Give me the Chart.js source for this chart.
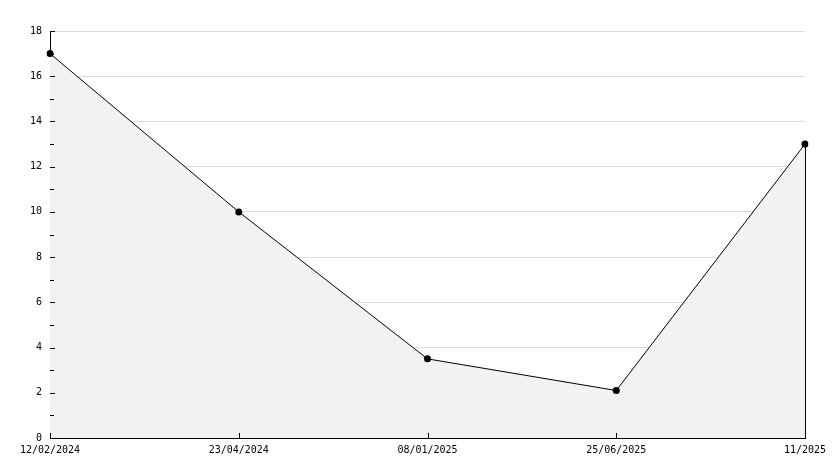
<!DOCTYPE html>
<html>
<head>
<meta charset="utf-8">
<script src="https://cdn.jsdelivr.net/npm/chart.js@4/dist/chart.umd.min.js"></script>
<style>
html,body{margin:0;padding:0;background:#fff;}
#wrap{width:834px;height:468px;position:relative;}
</style>
</head>
<body>
<div id="wrap"><canvas id="c" width="834" height="468"></canvas></div>
<script>
const categories = ["12/02/2024", "23/04/2024", "08/01/2025", "25/06/2025", "11/2025"];
const values = [17, 10, 3.5, 2.1, 13];
const yMin = 0, yMax = 18, yStep = 2;

const innerTicks = {
  id: 'innerTicks',
  afterDatasetsDraw(chart) {
    const ctx = chart.ctx, x = chart.scales.x, y = chart.scales.y, a = chart.chartArea;
    ctx.save();
    ctx.strokeStyle = '#000';
    ctx.lineWidth = 1;
    ctx.beginPath();
    for (let v = yMin + 1; v <= yMax; v++) {
      const py = Math.round(y.getPixelForValue(v)) + 0.5;
      const len = (v % yStep === 0) ? 5 : 4;
      ctx.moveTo(a.left, py); ctx.lineTo(a.left + len, py);
    }
    for (let i = 0; i < categories.length; i++) {
      const px = Math.round(x.getPixelForValue(i)) + 0.5;
      ctx.moveTo(px, a.bottom); ctx.lineTo(px, a.bottom - 5);
    }
    const last = values.length - 1;
    const lx = Math.round(x.getPixelForValue(last)) + 0.5;
    ctx.moveTo(lx, y.getPixelForValue(values[last]));
    ctx.lineTo(lx, y.getPixelForValue(yMin));
    ctx.stroke();
    ctx.restore();
  }
};

new Chart(document.getElementById('c'), {
  type: 'line',
  data: {
    labels: categories,
    datasets: [{
      data: values,
      borderColor: '#000',
      borderWidth: 1,
      backgroundColor: '#f2f2f2',
      fill: 'origin',
      tension: 0,
      pointRadius: 3.5,
      pointHoverRadius: 3.5,
      pointBackgroundColor: '#000',
      pointBorderColor: '#000',
      pointBorderWidth: 0
    }]
  },
  options: {
    responsive: false,
    animation: false,
    devicePixelRatio: 1,
    layout: { padding: { left: 0, right: 29, top: 31, bottom: 0 } },
    plugins: { legend: { display: false }, tooltip: { enabled: false } },
    scales: {
      x: {
        offset: false,
        grid: { display: false, drawTicks: false },
        border: { display: true, color: '#000', width: 1 },
        ticks: { color: '#000', font: { family: 'DejaVu Sans Mono', size: 10 }, padding: 6, maxRotation: 0, autoSkip: false },
        afterFit(s) { s.height = 30; }
      },
      y: {
        min: yMin, max: yMax,
        grid: {
          drawTicks: false,
          color: (c) => (c.tick && c.tick.value % yStep === 0 && c.tick.value !== yMin) ? '#dcdcdc' : 'rgba(0,0,0,0)',
          lineWidth: 1
        },
        border: { display: true, color: '#000', width: 1 },
        ticks: {
          stepSize: yStep,
          color: '#000',
          font: { family: 'DejaVu Sans Mono', size: 10 },
          padding: 8
        },
        afterFit(s) { s.width = 50; }
      }
    }
  },
  plugins: [innerTicks]
});
</script>
</body>
</html>
